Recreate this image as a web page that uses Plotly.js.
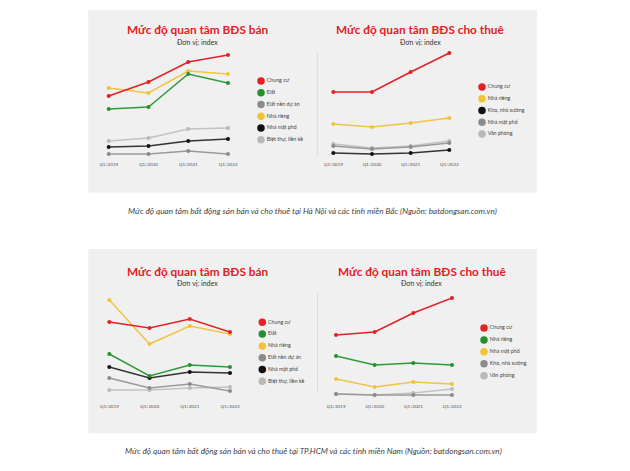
<!DOCTYPE html>
<html>
<head>
<meta charset="utf-8">
<script src="https://cdn.plot.ly/plotly-3.0.1.min.js"></script>
<style>html,body{margin:0;padding:0;background:#fff;}#chart{width:630px;height:471px;}</style>
</head>
<body>
<div id="chart"></div>
<script>
// ---------- DATA ----------
const quarters = ['Q1/2019', 'Q1/2020', 'Q1/2021', 'Q1/2022'];

// Hà Nội & miền Bắc – bán
const hnSaleNames = ['Chung cư', 'Đất', 'Đất nền dự án', 'Nhà riêng', 'Nhà mặt phố', 'Biệt thự, liền kề'];
const hnSaleChungCu = [64, 78, 98, 105];
const hnSaleDat = [51, 53, 86, 77];
const hnSaleDatNen = [6, 6, 9, 6];
const hnSaleNhaRieng = [72, 67, 89, 86];
const hnSaleMatPho = [13, 14, 19, 21];
const hnSaleBietThu = [19, 22, 31, 32];

// Hà Nội & miền Bắc – cho thuê
const hnRentNames = ['Chung cư', 'Nhà riêng', 'Kho, nhà xưởng', 'Nhà mặt phố', 'Văn phòng'];
const hnRentChungCu = [68, 68, 88, 107];
const hnRentNhaRieng = [36, 33, 37, 42];
const hnRentKho = [7, 6, 7, 10];
const hnRentMatPho = [14, 11, 13, 17];
const hnRentVanPhong = [16, 12, 14, 19];

// TP.HCM & miền Nam – bán
const hcmSaleNames = ['Chung cư', 'Đất', 'Nhà riêng', 'Đất nền dự án', 'Nhà mặt phố', 'Biệt thự, liền kề'];
const hcmSaleChungCu = [78, 72, 81, 68];
const hcmSaleDat = [46, 24, 35, 33];
const hcmSaleNhaRieng = [100, 56, 74, 66];
const hcmSaleDatNen = [22, 12, 16, 9];
const hcmSaleMatPho = [33, 22, 28, 27];
const hcmSaleBietThu = [10, 10, 12, 13];

// TP.HCM & miền Nam – cho thuê
const hcmRentNames = ['Chung cư', 'Nhà riêng', 'Nhà mặt phố', 'Kho, nhà xưởng', 'Văn phòng'];
const hcmRentChungCu = [65, 68, 87, 102];
const hcmRentNhaRieng = [44, 35, 37, 35];
const hcmRentMatPho = [21, 13, 18, 16];
const hcmRentKho = [6, 5, 5, 5];
const hcmRentVanPhong = [6, 5, 7, 11];

const chartTitles = ['Mức độ quan tâm BĐS bán', 'Mức độ quan tâm BĐS cho thuê'];
const unitLabel = 'Đơn vị: index';
const captionNorth = 'Mức độ quan tâm bất động sản bán và cho thuê tại Hà Nội và các tỉnh miền Bắc (Nguồn: batdongsan.com.vn)';
const captionSouth = 'Mức độ quan tâm bất động sản bán và cho thuê tại TP.HCM và các tỉnh miền Nam (Nguồn: batdongsan.com.vn)';

// ---------- STYLE ----------
const C = {
  red: '#e42024', green: '#23912f', yellow: '#f3c236',
  gray: '#8b8b8b', black: '#111111', light: '#b9b9b9'
};
const lineCol = {red: '#e42024', green: '#2f9a3b', yellow: '#f1c445', gray: '#9a9a9a', black: '#333333', light: '#c2c2c2'};

const W = 630, H = 471;
const px = v => v / W;
const py = v => 1 - v / H;

const charts = [
  { ax: '', names: hnSaleNames, series: [hnSaleChungCu, hnSaleDat, hnSaleDatNen, hnSaleNhaRieng, hnSaleMatPho, hnSaleBietThu],
    colors: ['red', 'green', 'gray', 'yellow', 'black', 'light'],
    xd: [108.7, 228], yd: [160, 50], leg: {x: 261, y0: 81, y1: 139.7} },
  { ax: '2', names: hnRentNames, series: [hnRentChungCu, hnRentNhaRieng, hnRentKho, hnRentMatPho, hnRentVanPhong],
    colors: ['red', 'yellow', 'black', 'gray', 'light'],
    xd: [333.3, 449.3], yd: [160, 50], leg: {x: 482, y0: 87, y1: 134} },
  { ax: '3', names: hcmSaleNames, series: [hcmSaleChungCu, hcmSaleDat, hcmSaleNhaRieng, hcmSaleDatNen, hcmSaleMatPho, hcmSaleBietThu],
    colors: ['red', 'green', 'yellow', 'gray', 'black', 'light'],
    xd: [109.3, 230], yd: [400, 290], leg: {x: 262.3, y0: 322.3, y1: 381.3} },
  { ax: '4', names: hcmRentNames, series: [hcmRentChungCu, hcmRentNhaRieng, hcmRentMatPho, hcmRentKho, hcmRentVanPhong],
    colors: ['red', 'green', 'yellow', 'gray', 'light'],
    xd: [336, 452], yd: [400, 290], leg: {x: 484, y0: 328, y1: 375.7} }
];

const traces = [];
const layout = {
  width: W, height: H,
  margin: {l: 0, r: 0, t: 0, b: 0},
  paper_bgcolor: '#ffffff', plot_bgcolor: 'rgba(0,0,0,0)',
  showlegend: false,
  font: {family: 'Lato, "Open Sans", sans-serif', color: '#333'},
  shapes: [], annotations: []
};

charts.forEach((ch, i) => {
  const xa = 'x' + ch.ax, ya = 'y' + ch.ax;
  for (let k = ch.series.length - 1; k >= 0; k--) {
    traces.push({
      type: 'scatter', mode: 'lines+markers', x: quarters, y: ch.series[k], name: ch.names[k],
      xaxis: xa, yaxis: ya, cliponaxis: false, hoverinfo: 'skip',
      line: {color: lineCol[ch.colors[k]], width: 1.5},
      marker: {color: C[ch.colors[k]], size: 4}
    });
  }
  const xKey = 'xaxis' + ch.ax, yKey = 'yaxis' + ch.ax;
  layout[xKey] = {
    type: 'category', domain: [px(ch.xd[0]), px(ch.xd[1])], range: [0, 3], anchor: ya,
    showgrid: false, zeroline: false, showline: false, ticks: '', fixedrange: true,
    tickfont: {size: 4.6, color: '#555'}, ticklabelstandoff: (i < 2 ? 0 : 2)
  };
  layout[yKey] = {
    domain: [py(ch.yd[0]), py(ch.yd[1])], range: [0, 110], anchor: xa, visible: false, fixedrange: true
  };

  // legend built from the category names
  const lx = 'x' + (5 + i), ly = 'y' + (5 + i);
  const n = ch.names.length;
  traces.push({
    type: 'scatter', mode: 'markers+text', x: ch.names.map(() => 0), y: ch.names.map((_, j) => j),
    text: ch.names, textposition: 'middle right', cliponaxis: false, hoverinfo: 'skip',
    textfont: {size: 5.3, color: '#444'},
    marker: {color: ch.colors.map(c => C[c]), size: 7.5},
    xaxis: lx, yaxis: ly
  });
  layout['xaxis' + (5 + i)] = {domain: [px(ch.leg.x), px(ch.leg.x + 60)], range: [0, 1], visible: false, anchor: ly, fixedrange: true};
  layout['yaxis' + (5 + i)] = {domain: [py(ch.leg.y1), py(ch.leg.y0)], range: [n - 1, 0], visible: false, anchor: lx, fixedrange: true};
});

// panels
const panels = [[88.3, 10, 537, 192.7], [88.3, 249, 537, 433.3]];
panels.forEach(p => layout.shapes.push({
  type: 'rect', xref: 'paper', yref: 'paper', layer: 'below',
  x0: px(p[0]), x1: px(p[2]), y0: py(p[3]), y1: py(p[1]),
  fillcolor: '#f0f0f0', line: {width: 0}
}));
// dividers
[[317.3, 53, 157], [317.5, 293, 392]].forEach(d => layout.shapes.push({
  type: 'line', xref: 'paper', yref: 'paper', layer: 'below',
  x0: px(d[0]), x1: px(d[0]), y0: py(d[2]), y1: py(d[1]),
  line: {color: '#dcdcdc', width: 1}
}));

// titles
const titlePos = [[197, 29.5, 41.8], [420, 29.3, 41.7], [197.5, 271, 282.7], [421.7, 271, 282.7]];
titlePos.forEach((t, i) => {
  layout.annotations.push({
    xref: 'paper', yref: 'paper', x: px(t[0]), y: py(t[1]), xanchor: 'center', yanchor: 'middle', showarrow: false,
    text: '<b>' + chartTitles[i % 2] + '</b>', font: {size: 11.8, color: '#e42024', family: 'Lato, sans-serif'}
  });
  layout.annotations.push({
    xref: 'paper', yref: 'paper', x: px(t[0]), y: py(t[2]), xanchor: 'center', yanchor: 'middle', showarrow: false,
    text: unitLabel, font: {size: 7, color: '#333', family: 'Lato, sans-serif'}
  });
});
// captions
[[312.5, 210.7, captionNorth], [313, 450.7, captionSouth]].forEach(c => layout.annotations.push({
  xref: 'paper', yref: 'paper', x: px(c[0]), y: py(c[1]), xanchor: 'center', yanchor: 'middle', showarrow: false,
  text: '<i>' + c[2] + '</i>', font: {size: 8.2, color: '#444', family: 'Lato, sans-serif'}
}));

Plotly.newPlot('chart', traces, layout, {staticPlot: true, displayModeBar: false});
</script>
</body>
</html>
